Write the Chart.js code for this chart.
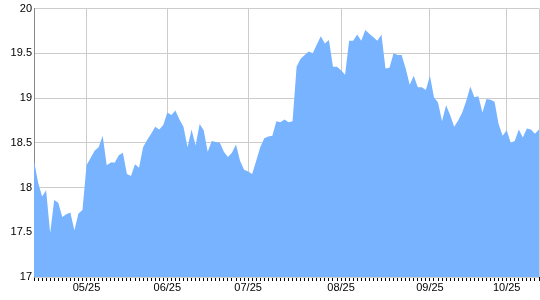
<!DOCTYPE html>
<html>
<head>
<meta charset="utf-8">
<script src="https://cdn.jsdelivr.net/npm/chart.js@4/dist/chart.umd.min.js"></script>
<style>
  body { margin: 0; background: #fff; }
</style>
</head>
<body>
<canvas id="chart" width="540" height="300"></canvas>
<script>
// price series, one value per trading day
var prices = [
    18.30, 18.06, 17.90, 17.97, 17.49, 17.86, 17.83, 17.67, 17.70, 17.72,
    17.52, 17.71, 17.75, 18.25, 18.33, 18.41, 18.45, 18.58, 18.25, 18.28,
    18.28, 18.36, 18.39, 18.15, 18.13, 18.26, 18.22, 18.45, 18.53, 18.60,
    18.68, 18.65, 18.70, 18.84, 18.81, 18.86, 18.76, 18.68, 18.45, 18.65,
    18.47, 18.71, 18.64, 18.40, 18.52, 18.51, 18.50, 18.40, 18.34, 18.39,
    18.48, 18.30, 18.20, 18.18, 18.15, 18.30, 18.45, 18.55, 18.57, 18.58,
    18.74, 18.73, 18.76, 18.73, 18.74, 19.35, 19.44, 19.48, 19.52, 19.50,
    19.60, 19.69, 19.61, 19.65, 19.35, 19.35, 19.31, 19.26, 19.64, 19.64,
    19.71, 19.64, 19.76, 19.72, 19.68, 19.64, 19.71, 19.33, 19.34, 19.50,
    19.48, 19.48, 19.33, 19.15, 19.25, 19.12, 19.12, 19.09, 19.25, 19.01,
    18.95, 18.74, 18.92, 18.81, 18.68, 18.75, 18.84, 18.97, 19.13, 19.01,
    19.02, 18.84, 18.99, 18.98, 18.96, 18.71, 18.58, 18.64, 18.50, 18.52,
    18.65, 18.56, 18.66, 18.65, 18.60, 18.65
];

// month labels and the day index where each one sits
var monthLabels = ['05/25', '06/25', '07/25', '08/25', '09/25', '10/25'];
var monthIndex = [13, 33, 53, 76, 98, 117];

var yMin = 17, yMax = 20, yStep = 0.5;

// one category per day, only month starts get text
var categories = [];
for (var i = 0; i < prices.length; i++) {
    var m = monthIndex.indexOf(i);
    categories.push(m >= 0 ? monthLabels[m] : '');
}

var ctx = document.getElementById('chart').getContext('2d');
Chart.defaults.font.family = '"Liberation Sans", Arial, sans-serif';
Chart.defaults.font.size = 11;
Chart.defaults.color = '#000';

var chart = new Chart(ctx, {
    type: 'line',
    data: {
        labels: categories,
        datasets: [{
            data: prices,
            backgroundColor: '#77b3ff',
            borderWidth: 0,
            pointRadius: 0,
            tension: 0,
            fill: 'start'
        }]
    },
    options: {
        responsive: false,
        animation: false,
        layout: { padding: { top: 8, right: 1, bottom: 0, left: 0 } },
        plugins: {
            legend: { display: false },
            tooltip: { enabled: false }
        },
        scales: {
            x: {
                offset: false,
                afterFit: function(scale) { scale.height = 23; },
                grid: {
                    color: function(c) {
                        var idx = c.index;
                        if (monthIndex.indexOf(idx) >= 0 || idx == prices.length - 1) return '#cccccc';
                        return 'rgba(0,0,0,0)';
                    },
                    tickColor: '#000',
                    tickLength: 4,
                    drawTicks: true
                },
                border: { display: false },
                ticks: {
                    autoSkip: false,
                    maxRotation: 0,
                    padding: 0,
                    callback: function(val, idx) { return categories[idx]; }
                }
            },
            y: {
                min: yMin,
                max: yMax,
                afterFit: function(scale) { scale.width = 34; },
                grid: { color: '#cccccc', drawTicks: false },
                border: { display: true, color: '#888888' },
                ticks: {
                    stepSize: yStep,
                    padding: 2,
                    // 20 not 20.0
                    callback: function(v) { return String(Number(v.toFixed(1))); }
                }
            }
        }
    }
});
</script>
</body>
</html>
